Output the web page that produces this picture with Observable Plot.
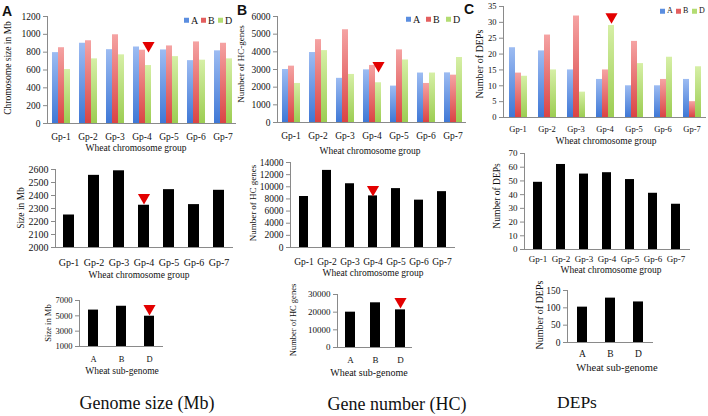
<!DOCTYPE html>
<html><head><meta charset="utf-8">
<script src="https://cdn.jsdelivr.net/npm/d3@7"></script>
<script src="https://cdn.jsdelivr.net/npm/@observablehq/plot@0.6"></script>
<style>
html,body{margin:0;padding:0;background:#fff;}
#root{position:relative;width:708px;height:416px;overflow:hidden;font-family:"Liberation Serif","DejaVu Serif",serif;color:#111;}
#root svg{position:absolute;left:0;top:0;overflow:visible;}
.lbl{position:absolute;white-space:nowrap;transform:translate(-50%,-50%);line-height:1;}
.ylbl{position:absolute;white-space:nowrap;transform:translate(-50%,-50%) rotate(-90deg);line-height:1;}
.letter{position:absolute;font-family:"Liberation Sans","DejaVu Sans",sans-serif;font-weight:bold;font-size:14px;line-height:1;}
.legend{position:absolute;white-space:nowrap;line-height:1;transform:translateY(-50%);}
.legend .it{display:inline-flex;align-items:center;}
.legend .sw{display:inline-block;width:5px;height:5px;margin-right:2px;}
</style></head><body>
<svg width="0" height="0" style="position:absolute;left:0;top:0">
<defs>
<linearGradient id="gA" x1="0" y1="0" x2="0" y2="1"><stop offset="0" stop-color="#9dbcf2"/><stop offset="1" stop-color="#3f78d6"/></linearGradient>
<linearGradient id="gB" x1="0" y1="0" x2="0" y2="1"><stop offset="0" stop-color="#f5a3a3"/><stop offset="1" stop-color="#da4444"/></linearGradient>
<linearGradient id="gD" x1="0" y1="0" x2="0" y2="1"><stop offset="0" stop-color="#d6efa6"/><stop offset="1" stop-color="#9ccd52"/></linearGradient>
</defs></svg>
<div id="root"></div>
<script>
// ---------- data ----------
const groups = ["Gp-1","Gp-2","Gp-3","Gp-4","Gp-5","Gp-6","Gp-7"];
const subgenomes = ["A","B","D"];
const subColors = ["#5b8ee0","#e35f5f","#b3dc72"];

// top row: per sub-genome by chromosome group
const chrSizeA = [795,900,828,858,825,705,815];
const chrSizeB = [850,928,995,822,870,915,900];
const chrSizeD = [605,725,770,650,750,710,725];
const hcA = [3000,3960,2500,2980,2060,2800,2810];
const hcB = [3190,4690,5250,3230,4110,2210,2680];
const hcD = [2210,4070,2720,2250,3540,2800,3680];
const depA = [22,21,15,12,10,10,12];
const depB = [14,26,32,15,24,12,5];
const depD = [13,15,8,29,17,19,16];

// middle row: per chromosome group
const groupSize = [2250,2555,2590,2325,2445,2330,2440];
const groupHC = [8400,12700,10500,8500,9700,7800,9200];
const groupDEP = [49,62,55,56,51,41,33];

// bottom row: per sub-genome
const subSize = [5750,6250,4950];
const subHC = [20000,25300,21300];
const subDEP = [102,128,117];

// tick values
const ticksChr = [0,200,400,600,800,1000,1200];
const ticksHC = [0,1000,2000,3000,4000,5000,6000];
const ticksDEP = [0,5,10,15,20,25,30,35];
const ticksGroupSize = [2000,2100,2200,2300,2400,2500,2600];
const ticksGroupHC = [0,2000,4000,6000,8000,10000,12000,14000];
const ticksGroupDEP = [0,10,20,30,40,50,60,70];
const ticksSubSize = [1000,3000,5000,7000];
const ticksSubHC = [0,10000,20000,30000];
const ticksSubDEP = [0,50,100,150];

// red down-triangle markers: [category, sub-genome, value]
const markChr = ["Gp-4","D",875];
const markHC = ["Gp-4","D",3230];
const markDEP = ["Gp-4","D",31.8];
const markGroupSize = ["Gp-4",2385];
const markGroupHC = ["Gp-4",9550];
const markSubSize = ["D",5960];
const markSubHC = ["D",26000];

// ---------- drawing ----------
const W = 708, H = 416;
const root = document.getElementById("root");
const SERIF = "'Liberation Serif','DejaVu Serif',serif";
const AXIS = "#8a8a8a";

function finish(svg) {
  svg.querySelectorAll('[stroke="currentColor"]').forEach(e => e.setAttribute("stroke", AXIS));
  svg.querySelectorAll('text').forEach(e => e.setAttribute("font-family", SERIF));
  root.appendChild(svg);
}

function groupedChart(c) {
  const series = c.series;
  const rows = [];
  groups.forEach((g, i) => subgenomes.forEach((s, j) => rows.push({
    group: g, sub: s, value: series[j][i],
    marker: (g === c.marker[0] && s === c.marker[1]) ? c.marker[2] : null
  })));
  const svg = Plot.plot({
    width: W, height: H,
    marginLeft: c.f[0], marginTop: c.f[1], marginRight: W - c.f[2], marginBottom: H - c.f[3],
    style: {background: "transparent", fontFamily: SERIF, fontSize: c.font + "px", color: "#111", overflow: "visible"},
    facet: {data: rows, x: "group"},
    fx: {domain: groups, padding: 0, axis: "bottom", tickSize: 0, tickPadding: c.pad, label: null},
    x: {domain: subgenomes, paddingInner: 0, paddingOuter: 0.6, axis: null},
    y: {domain: c.domain, ticks: c.ticks, tickFormat: d => String(d), tickSize: 4, tickPadding: 3, line: true, label: null},
    marks: [
      ...subgenomes.map(s => Plot.barY(rows, {filter: d => d.sub === s, x: "sub", y: "value", fill: `url(#g${s})`})),
      Plot.ruleY([c.domain[0]], {stroke: AXIS}),
      Plot.dot(rows, {filter: d => d.marker != null, x: "sub", y: "marker", symbol: "triangle", rotate: 180, r: 4.5, fill: "#e30000"})
    ]
  });
  finish(svg);
}

function simpleChart(c) {
  const rows = c.cats.map((k, i) => ({cat: k, value: c.values[i], marker: (c.marker && c.marker[0] === k) ? c.marker[1] : null}));
  const lo = c.domain[0];
  const svg = Plot.plot({
    width: W, height: H,
    marginLeft: c.f[0], marginTop: c.f[1], marginRight: W - c.f[2], marginBottom: H - c.f[3],
    style: {background: "transparent", fontFamily: SERIF, fontSize: c.font + "px", color: "#111", overflow: "visible"},
    x: {domain: c.cats, paddingInner: c.p, paddingOuter: c.p / 2, tickSize: 0, tickPadding: c.pad, label: null},
    y: {domain: c.domain, ticks: c.ticks, tickFormat: d => String(d), tickSize: 4, tickPadding: 3, line: true, label: null},
    marks: [
      Plot.barY(rows, {x: "cat", y1: () => lo, y2: "value", fill: "#000"}),
      Plot.ruleY([lo], {stroke: AXIS}),
      Plot.dot(rows, {filter: d => d.marker != null, x: "cat", y: "marker", symbol: "triangle", rotate: 180, r: 4.5, fill: "#e30000"})
    ]
  });
  finish(svg);
}

function text(str, x, y, size, rot) {
  const d = document.createElement("div");
  d.className = rot ? "ylbl" : "lbl";
  d.textContent = str;
  d.style.left = x + "px"; d.style.top = y + "px"; d.style.fontSize = size + "px";
  root.appendChild(d);
}
function letter(str, x, y) {
  const d = document.createElement("div");
  d.className = "letter"; d.textContent = str;
  d.style.left = x + "px"; d.style.top = y + "px";
  root.appendChild(d);
}
function legend(x, y, size, step) {
  const d = document.createElement("div");
  d.className = "legend";
  d.style.left = x + "px"; d.style.top = y + "px"; d.style.fontSize = size + "px";
  subgenomes.forEach((s, i) => {
    const it = document.createElement("span");
    it.className = "it"; it.style.width = step + "px";
    const sw = document.createElement("span");
    sw.className = "sw"; sw.style.background = subColors[i];
    it.appendChild(sw);
    it.appendChild(document.createTextNode(s));
    d.appendChild(it);
  });
  root.appendChild(d);
}

// top row (frames: left, top, right, bottom)
groupedChart({series: [chrSizeA, chrSizeB, chrSizeD], f: [44, 16, 238, 123], domain: [0, 1200], ticks: ticksChr, marker: markChr, font: 9.5, pad: 10});
groupedChart({series: [hcA, hcB, hcD], f: [274, 16, 469, 122], domain: [0, 6000], ticks: ticksHC, marker: markHC, font: 9.5, pad: 10});
groupedChart({series: [depA, depB, depD], f: [502, 6, 706, 117], domain: [0, 35], ticks: ticksDEP, marker: markDEP, font: 8.5, pad: 8});

// middle row
simpleChart({cats: groups, values: groupSize, f: [55, 169, 233, 247], domain: [2000, 2600], ticks: ticksGroupSize, marker: markGroupSize, p: 0.55, font: 10, pad: 11});
simpleChart({cats: groups, values: groupHC, f: [290, 162, 455, 247], domain: [0, 14000], ticks: ticksGroupHC, marker: markGroupHC, p: 0.6, font: 9.5, pad: 11});
simpleChart({cats: groups, values: groupDEP, f: [524, 153, 690, 249], domain: [0, 70], ticks: ticksGroupDEP, marker: null, p: 0.6, font: 9, pad: 6});

// bottom row
simpleChart({cats: subgenomes, values: subSize, f: [79, 300, 163, 346], domain: [1000, 7000], ticks: ticksSubSize, marker: markSubSize, p: 0.66, font: 8.5, pad: 9});
simpleChart({cats: subgenomes, values: subHC, f: [337, 294, 412, 347], domain: [0, 30000], ticks: ticksSubHC, marker: markSubHC, p: 0.6, font: 9, pad: 9});
simpleChart({cats: subgenomes, values: subDEP, f: [567, 290, 653, 342], domain: [0, 150], ticks: ticksSubDEP, marker: null, p: 0.63, font: 9.5, pad: 8});

// legends
legend(184, 20, 10, 17);
legend(406, 19, 10, 20);
legend(660, 11, 8, 16);

// panel letters
letter("A", 2, 4);
letter("B", 237, 3);
letter("C", 464, 2);

// axis titles
text("Chromosome size in Mb", 9, 68, 9.5, true);
text("Wheat chromosome group", 136, 149, 9.5);
text("Number of HC-genes", 241, 64, 9, true);
text("Wheat chromosome group", 370, 152, 9.5);
text("Number of DEPs", 480, 64, 10, true);
text("Wheat chromosome group", 606, 142, 9.5);

text("Size in Mb", 22, 208, 9.5, true);
text("Wheat chromosome group", 139, 276, 9.5);
text("Number of HC genes", 253, 203, 9, true);
text("Wheat chromosome group", 373, 274, 9.5);
text("Number of DEPs", 498, 196, 9.5, true);
text("Wheat chromosome group", 611, 271, 9.5);

text("Size in Mb", 48, 323, 8.5, true);
text("Wheat sub-genome", 122, 372, 9.5);
text("Number of HC genes", 293, 320, 8.5, true);
text("Wheat sub-genome", 369, 373, 10);
text("Number of DEPs", 540, 315, 10, true);
text("Wheat sub-genome", 617, 368, 10.5);

text("Genome size (Mb)", 147, 403, 18);
text("Gene number (HC)", 397, 404, 18);
text("DEPs", 577, 403, 17.5);
</script></body></html>
